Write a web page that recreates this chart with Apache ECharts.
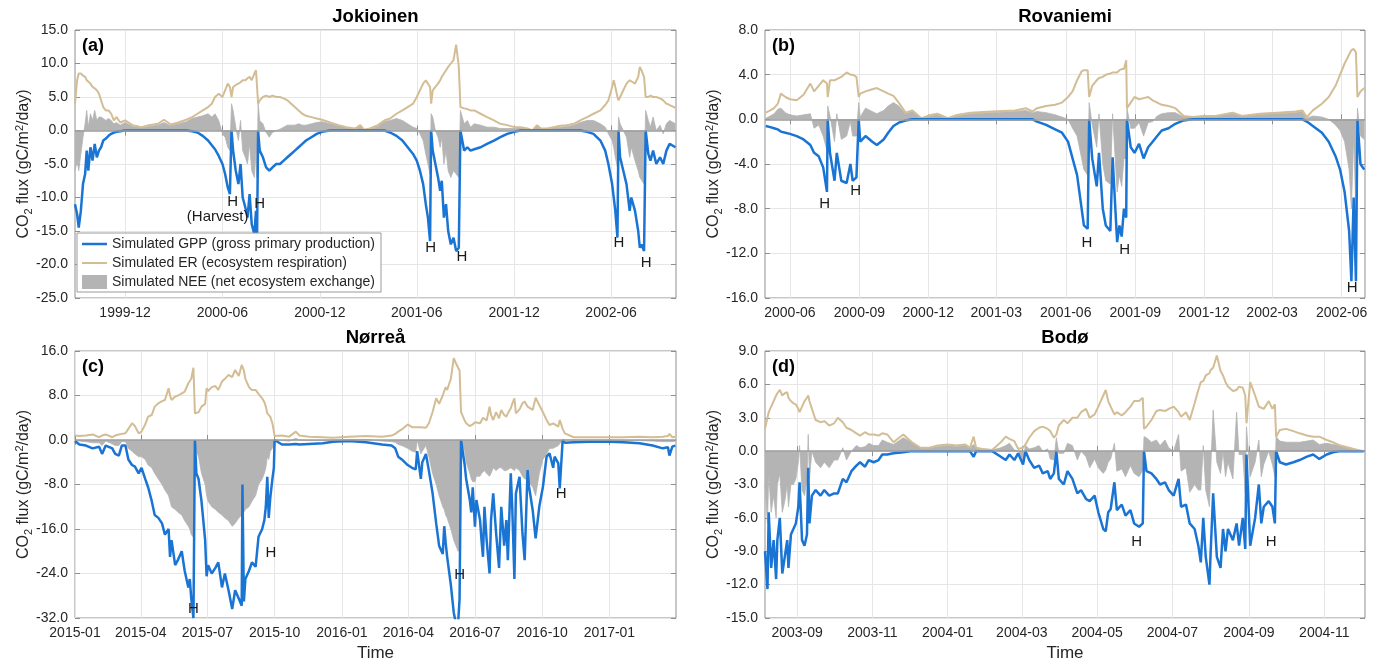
<!DOCTYPE html>
<html>
<head>
<meta charset="utf-8">
<script src="https://cdn.jsdelivr.net/npm/echarts@6/dist/echarts.min.js"></script>
<style>
  html, body { margin: 0; padding: 0; background: #fff; }
  #chart { width: 1381px; height: 660px; }
</style>
</head>
<body>
<div id="chart"></div>
<script>
// ---------- (a) Jokioinen ----------
const jokDates = [
  '1999-08-29','1999-09-02','1999-09-05','1999-09-09','1999-09-13','1999-09-17','1999-09-20','1999-09-23','1999-09-27','1999-10-01',
  '1999-10-05','1999-10-09','1999-10-13','1999-10-17','1999-10-21','1999-10-26','1999-10-31','1999-11-05','1999-11-10','1999-11-15',
  '1999-11-22','1999-12-01','1999-12-15','2000-01-01','2000-01-15','2000-02-01','2000-02-12','2000-02-25','2000-03-10','2000-03-25',
  '2000-04-05','2000-04-15','2000-04-25','2000-05-05','2000-05-12','2000-05-18','2000-05-25','2000-06-01','2000-06-06','2000-06-11',
  '2000-06-15','2000-06-18','2000-06-21','2000-06-26','2000-07-01','2000-07-05','2000-07-09','2000-07-14','2000-07-18','2000-07-22',
  '2000-07-26','2000-07-31','2000-08-03','2000-08-05','2000-08-07','2000-08-10','2000-08-16','2000-08-22','2000-08-28','2000-09-03',
  '2000-09-10','2000-09-17','2000-09-24','2000-10-01','2000-10-08','2000-10-15','2000-10-22','2000-10-29','2000-11-05','2000-11-15',
  '2000-11-25','2000-12-05','2000-12-20','2001-01-05','2001-01-20','2001-02-05','2001-02-15','2001-02-22','2001-03-05','2001-03-20',
  '2001-04-01','2001-04-12','2001-04-24','2001-05-05','2001-05-15','2001-05-25','2001-06-01','2001-06-07','2001-06-13','2001-06-18',
  '2001-06-22','2001-06-26','2001-06-28','2001-07-01','2001-07-06','2001-07-11','2001-07-15','2001-07-18','2001-07-22','2001-07-26',
  '2001-07-30','2001-08-04','2001-08-09','2001-08-14','2001-08-19','2001-08-22','2001-08-29','2001-09-04','2001-09-10','2001-09-17',
  '2001-09-29','2001-10-11','2001-10-24','2001-11-05','2001-11-18','2001-12-01','2001-12-13','2001-12-26','2002-01-04','2002-01-13',
  '2002-01-20','2002-02-01','2002-02-13','2002-02-26','2002-03-10','2002-03-23','2002-04-04','2002-04-17','2002-04-29','2002-05-12',
  '2002-05-21','2002-05-27','2002-06-03','2002-06-06','2002-06-09','2002-06-13','2002-06-15','2002-06-18','2002-06-24','2002-06-30',
  '2002-07-06','2002-07-09','2002-07-16','2002-07-22','2002-07-25','2002-07-28','2002-08-02','2002-08-05','2002-08-10','2002-08-14',
  '2002-08-19','2002-08-25','2002-09-01','2002-09-07','2002-09-13','2002-09-19','2002-09-30'
];
const jokGPP = [
  -11,-12.5,-14.5,-12,-8,-6.5,-3,-6,-2.5,-4.5,
  -2,-4,-3,-2.5,-1.5,-1.2,-0.8,-0.5,-0.3,-0.2,
  -0.1,0,0,0,0,0,0,0,0,0,
  -0.1,-0.3,-0.8,-1.5,-2.2,-2.8,-3.8,-5,-6.5,-8.5,
  -9.5,0,-3,-6,-8,-5,-10,-11.5,-13,-9.5,
  -14,-15.5,-12,-16,0,-3,-4,-5.5,-6,-5.5,
  -5,-5,-4.5,-4,-3.5,-3,-2.5,-2,-1.5,-1,
  -0.5,-0.2,0,0,0,0,0,0,0,0,
  0,-0.3,-0.8,-1.5,-2.5,-3.5,-4.5,-6,-8,-11,
  -13,-16.5,0,-3,-5,-7,-9,-7.5,-13,-11,
  -15,-17,-16,-18,-17.5,0,-3,-2.5,-3,-2.8,
  -2.5,-2,-1.5,-1,-0.5,-0.2,0,0,0,0,
  0,0,0,0,0,0,0,-0.2,-0.5,-1.5,
  -3,-5,-8,-10,-12,-16,0,-4,-6,-8,
  -12,-10,-12,-15,-17.5,-17,-18,0,-3.5,-4.5,
  -3,-5,-4,-5,-3,-2,-2.5
];
const jokER = [
  4,7.5,8.5,8.5,8.2,8,7.5,7.3,7,6.5,
  6.3,6,5.5,4.5,3.5,3,3,2.5,1.5,2,
  1.2,1.5,0.8,0.5,0.8,1,1.6,0.9,1.2,1.6,
  2,2.5,3,3.5,4,5,5.5,5,6,7,
  6.5,5,6.5,6.8,7,7.2,7.5,7.5,7.8,8,
  7.5,8.5,9,8.8,4,4.5,5,5.2,5,5.2,
  5,5,4.8,4.5,4,3.5,3,2.5,2.2,2,
  1.8,1.6,1.2,0.8,0.5,0.3,0.8,0.1,0.3,0.8,
  1.5,1.8,2.5,3,3.5,4,5,6,7,7.5,
  7,6.5,4,6,6.5,7,7.5,8,8.5,9,
  9.5,10,10.5,12.8,9.5,3.5,3.3,3.2,3,3,
  2.5,2,1.5,1,0.8,0.5,0.5,0.3,0,0.8,
  0.3,0.3,0.5,0.7,0.8,1,1.5,2,2.5,3,
  3.8,4.5,6.5,7.5,6.5,5,4.5,5,6,7,
  7.5,7.5,7,8,9.5,9,8,5,5,5.2,
  5,5,4.8,4.5,4,3.8,3.4
];
const jokNEE = [
  -6,-4.5,-6,-3.5,-1,1,3,0.5,2.5,1.5,
  3,1.5,2,2,1.8,1.5,1.8,1.5,1,1.2,
  0.8,1.2,0.6,0.4,0.6,0.8,1.2,0.7,1,1.3,
  1.8,2,2.2,2.5,2,2.5,1.5,-0.5,-1,-2.5,
  -3,4,3,0.5,-1.5,1.5,-3,-4,-5,-2,
  -6,-7,-3,-7,4,1.5,1,-0.3,-1,-0.3,
  0,0.2,0.5,0.8,0.8,0.8,1,0.8,0.8,1,
  1.2,1.3,1,0.7,0.4,0.2,0.6,0.1,0.2,0.6,
  1.3,1.5,1.8,1.5,1,0.5,0.3,-0.5,-1.5,-3.5,
  -5,-6.5,2.5,2,0,-1,-2.5,-1,-5,-3,
  -6,-7,-6,-6.5,-7,3,1,1.5,0.5,1,
  0.8,0.5,0.5,0.3,0.3,0.3,0.4,0.2,0,0.6,
  0.2,0.2,0.4,0.5,0.6,0.8,1.2,1.5,1.5,1,
  0.5,-0.5,-1.5,-2.5,-4,-5.5,2,1,0,-1,
  -4,-2.5,-4.5,-6,-7,-7,-8,3,1.5,0.5,
  2,0,0.8,-0.5,1,1.5,1
];
const jokTicks = ['1999-12-01','2000-06-01','2000-12-01','2001-06-01','2001-12-01','2002-06-01'];
const jokRange = ['1999-08-29','2002-10-01'];
const jokMarkDates = ['2000-06-20','2000-05-23','2000-08-10','2001-06-27','2001-08-25','2002-06-16','2002-08-06'];
const jokMarkValues = [-10.6,-12.9,-11,-17.5,-18.8,-16.8,-19.8];
const jokMarkText = ['H','(Harvest)','H','H','H','H','H'];

// ---------- (b) Rovaniemi ----------
const rovDates = [
  '2000-04-30','2000-05-06','2000-05-11','2000-05-16','2000-05-20','2000-05-26','2000-06-01','2000-06-10','2000-06-19','2000-06-28',
  '2000-07-03','2000-07-09','2000-07-15','2000-07-20','2000-07-21','2000-07-24','2000-07-30','2000-08-02','2000-08-08','2000-08-15',
  '2000-08-20','2000-08-23','2000-08-28','2000-08-31','2000-09-02','2000-09-09','2000-09-18','2000-09-24','2000-10-03','2000-10-09',
  '2000-10-16','2000-10-23','2000-11-01','2000-11-10','2000-11-22','2000-12-04','2000-12-13','2000-12-27','2001-01-08','2001-01-26',
  '2001-02-24','2001-03-26','2001-04-09','2001-04-18','2001-04-24','2001-05-06','2001-05-18','2001-05-27','2001-06-04','2001-06-10',
  '2001-06-16','2001-06-22','2001-06-25','2001-06-30','2001-07-02','2001-07-06','2001-07-12','2001-07-15','2001-07-20','2001-07-24',
  '2001-07-30','2001-08-02','2001-08-08','2001-08-11','2001-08-14','2001-08-17','2001-08-20','2001-08-21','2001-08-26','2001-08-31',
  '2001-09-06','2001-09-12','2001-09-18','2001-09-24','2001-09-30','2001-10-06','2001-10-15','2001-10-24','2001-11-04','2001-11-16',
  '2001-12-01','2001-12-16','2002-01-08','2002-01-20','2002-02-13','2002-03-08','2002-04-01','2002-04-10','2002-04-16','2002-04-24',
  '2002-05-06','2002-05-15','2002-05-24','2002-05-30','2002-06-05','2002-06-11','2002-06-14','2002-06-17','2002-06-20','2002-06-22',
  '2002-06-26','2002-07-01'
];
const rovGPP = [
  -0.6,-0.7,-0.8,-0.9,-1.1,-1.2,-1.3,-1.5,-1.8,-2.3,
  -3,-3.3,-4.3,-6.5,0,-3,-5.5,-3,-5.5,-5.7,
  -4,-5.5,-5.2,0,-2,-1.5,-2,-2.3,-1.8,-1.2,
  -0.6,-0.3,-0.1,0,0,0,0,0,0,0,
  0,0,0,0,-0.2,-0.5,-0.9,-1.2,-2,-3.5,
  -5,-8,-9.5,-9.8,0,-3.5,-6,-3,-8,-9.5,
  -10,-3.4,-11,-9.5,-10.5,-8,-8.8,0,-2.5,-3,
  -2.2,-3.5,-2.5,-2,-1.5,-1,-0.8,-0.4,-0.1,0,
  0,0,0,0,0,0,0,0,-0.2,-0.6,
  -1.2,-2,-3.3,-4.5,-6.5,-10,-14.5,-7,-14.5,0,
  -4,-4.5
];
const rovER = [
  0.6,0.8,1,1.4,2.3,2,1.8,1.7,2.2,3.2,
  2.5,3,3.5,3.2,2,3.5,3.5,3.6,3.8,4.2,
  4,4,3.8,2,2.3,2.5,2.7,2.8,2.5,2.3,
  2.1,1.5,0.6,0.8,0.1,0.4,0.5,0.1,0.4,0.6,
  0.7,0.8,1,0.7,1,1.2,1.3,1.5,2,2.5,
  3.5,4.3,4.4,4.4,2,3,3.5,3.7,3.8,4,
  4.1,4.2,4.2,4.4,4.5,4.5,5.3,1,1.5,2,
  1.8,1.9,2,1.7,1.5,1.3,1.2,1,0.3,0.2,
  0.3,0.3,0.6,0.3,0.5,0.6,0.7,0.8,0.2,0.8,
  1.4,2,3,4,5,5.8,6.2,6.3,6,2,
  2.5,2.8
];
const rovNEE = [
  0.1,0.3,0.5,0.9,1,0.6,0.4,0.3,0.4,0.5,
  -0.8,-0.5,-1.5,-2.8,1.2,0.3,-2,0.5,-1.8,-1.5,
  -0.2,-1.5,-1.5,1.5,0.2,1,0.7,0.5,0.8,1.2,
  1.5,1.2,0.5,0.7,0.1,0.3,0.4,0.1,0.3,0.5,
  0.6,0.7,0.8,0.6,0.7,0.6,0.4,0.2,0,-0.8,
  -1.5,-3.5,-4.5,-5,1.5,-0.5,-2.5,0.5,-4,-5.5,
  -5.8,0.5,-6.5,-5,-6,-3.5,-3.5,1,-0.8,-0.8,
  -0.3,-1.5,-0.3,-0.2,0.3,0.5,0.6,0.6,0.2,0.2,
  0.3,0.3,0.5,0.3,0.4,0.5,0.6,0.7,0.1,0.3,
  0.2,0,-0.5,-1,-2,-4.5,-8,-1.5,-8.5,1,
  -1.5,-1.8
];
const rovTicks = ['2000-06-01','2000-09-01','2000-12-01','2001-03-01','2001-06-01','2001-09-01','2001-12-01','2002-03-01','2002-06-01'];
const rovRange = ['2000-04-29','2002-07-02'];
const rovMarkDates = ['2000-07-17','2000-08-27','2001-06-29','2001-08-18','2002-06-15'];
const rovMarkValues = [-7.6,-6.4,-11.1,-11.7,-15.1];
const rovMarkText = ['H','H','H','H','H'];

// ---------- (c) Nørreå ----------
const norDates = [
  '2015-01-01','2015-01-07','2015-01-16','2015-01-25','2015-02-03','2015-02-07','2015-02-12','2015-02-21','2015-02-25','2015-03-02',
  '2015-03-06','2015-03-11','2015-03-15','2015-03-20','2015-03-24','2015-03-29','2015-04-02','2015-04-07','2015-04-11','2015-04-16',
  '2015-04-20','2015-04-25','2015-04-30','2015-05-04','2015-05-09','2015-05-11','2015-05-13','2015-05-18','2015-05-22','2015-05-27',
  '2015-05-31','2015-06-05','2015-06-07','2015-06-09','2015-06-12','2015-06-14','2015-06-16','2015-06-19','2015-06-23','2015-06-28',
  '2015-06-30','2015-07-02','2015-07-07','2015-07-12','2015-07-16','2015-07-21','2015-07-25','2015-07-30','2015-08-04','2015-08-08',
  '2015-08-13','2015-08-17','2015-08-18','2015-08-20','2015-08-22','2015-08-27','2015-08-31','2015-09-05','2015-09-09','2015-09-14',
  '2015-09-17','2015-09-19','2015-09-21','2015-09-23','2015-09-25','2015-09-28','2015-09-30','2015-10-01','2015-10-11','2015-10-21',
  '2015-10-30','2015-11-04','2015-11-17','2015-12-06','2015-12-20','2016-01-11','2016-02-03','2016-02-25','2016-03-09','2016-03-14',
  '2016-03-18','2016-03-23','2016-03-31','2016-04-06','2016-04-11','2016-04-13','2016-04-18','2016-04-20','2016-04-25','2016-04-29',
  '2016-05-04','2016-05-09','2016-05-13','2016-05-18','2016-05-20','2016-05-22','2016-05-24','2016-05-29','2016-06-02','2016-06-05',
  '2016-06-08','2016-06-10','2016-06-12','2016-06-17','2016-06-19','2016-06-24','2016-06-26','2016-06-28','2016-07-01','2016-07-03',
  '2016-07-08','2016-07-10','2016-07-12','2016-07-14','2016-07-17','2016-07-21','2016-07-23','2016-07-26','2016-07-30','2016-08-03',
  '2016-08-06','2016-08-10','2016-08-13','2016-08-15','2016-08-19','2016-08-21','2016-08-24','2016-08-26','2016-08-31','2016-09-04',
  '2016-09-07','2016-09-11','2016-09-13','2016-09-18','2016-09-22','2016-09-27','2016-10-02','2016-10-07','2016-10-11','2016-10-16',
  '2016-10-18','2016-10-23','2016-10-25','2016-10-29','2016-11-01','2016-11-13','2016-12-05','2017-01-01','2017-01-20','2017-02-11',
  '2017-03-01','2017-03-15','2017-03-22','2017-03-24','2017-03-28','2017-04-01'
];
const norGPP = [
  -0.2,-0.8,-1,-1.5,-1.2,-2.5,-1,-1.5,-2.5,-2.8,
  -1,-1,-3.5,-4.5,-4.8,-6,-5,-7,-8.5,-11,
  -13.5,-14,-15,-17,-16,-21,-18,-22.5,-21.5,-20,
  -23.5,-26.5,-25,-28.5,-32,0,-6,-7,-11,-18,
  -24.5,-22.5,-24,-23,-22,-26.5,-24,-27,-30.4,-27,
  -28.5,-29.8,-8,-29,-25,-23.5,-22,-22.8,-17.4,-16,
  -14.4,-12,-6.6,-14,-10.5,-7,-5,0,-0.8,-0.8,
  -0.7,-0.8,-0.7,-0.6,-0.3,-0.2,-0.4,-0.8,-1,-1.5,
  -3,-3.5,-4.5,-5,-5.3,-2,-7,-4,-2.5,-5.5,
  -9.5,-15,-19,-20.5,-15.5,-18.5,-21,-26,-31,-33,
  -33,-28.5,0,-4.5,-7,-10.8,-13,-8.5,-15.6,-10.8,
  -14.4,-18,-21,-12,-18,-24,-14.4,-9.6,-16.8,-23,
  -12,-19,-14.4,-21.6,-6,-12,-25,-9.6,-6.6,-16.8,
  -21.6,-5.4,-8.4,-12.6,-17.7,-12,-8.4,-3,-2.4,-5,
  -3,-4.2,-8.7,0,-0.5,-0.4,-0.3,-0.3,-0.4,-0.6,
  -1,-1.5,-1.3,-2.8,-1.2,-1
];
const norER = [
  0.8,0.7,0.8,1,0.5,0.8,1,0.5,0.8,1,
  1.1,1.2,2,3,2.5,1.2,1.5,2.8,4.2,4.5,
  6,6.6,7,7.2,9.3,8,7.2,7.8,8,8.4,
  8.7,10.2,10.5,11,13,4.8,4.5,5,6,6.5,
  9.3,8.8,9.5,9.7,9,10.5,11,11.7,11.3,12.6,
  11.5,13.5,13.2,12.5,11,9.5,9,9,8.3,7.5,
  6.8,6,4.8,4.5,4.2,3,1.5,0.7,0.8,0.6,
  1.5,0.8,0.6,0.5,0.4,0.6,0.7,0.6,0.8,1.1,
  1.5,1.9,2.8,2.3,2.3,2.5,2.3,2.1,2.2,3,
  5,7.5,6.5,8,8.8,9.5,9,11,14.7,13.8,
  13,12.5,5,3.5,3,2.5,2.6,2.8,3.2,3.5,
  3,3.5,4,3.8,3.5,6,4.5,3.6,5,3.9,
  5.4,4.5,4.2,4.8,5.7,6.5,7.5,4.8,5.5,6.6,
  6.9,6,5.8,5.4,7.6,6.3,5,3.6,2.7,3,
  2.8,2.4,3.6,2,1.2,0.5,0.5,0.5,0.5,0.6,
  0.5,0.6,0.7,1.1,0.5,0.6
];
const norNEE = [
  -0.1,-0.2,-0.3,-0.5,-0.5,-1,-0.2,-0.7,-1,-1,
  -0.3,-0.3,-1.5,-2,-2.5,-3,-3,-3.5,-4.5,-5,
  -6,-7,-8,-9,-10,-11,-12,-12.5,-13,-13.5,
  -14.5,-15.5,-16,-17,-17.5,0,-2,-3,-6,-8,
  -10,-11,-12,-12.5,-13,-13.5,-14,-14.5,-15.5,-15,
  -14,-13.5,-12.5,-13,-12.5,-12,-11,-10,-8,-7,
  -6,-5,-3,-3.5,-2,-1.5,-1,0,-0.1,-0.2,
  0.3,0,-0.1,-0.1,0,0.1,0.1,-0.2,-0.3,-0.4,
  -0.8,-1,-1.5,-2,-2.2,0,-2.5,-2,-1,-3,
  -6,-8,-10,-12,-12.5,-13.5,-14,-16,-18,-19,
  -20,-19,0,-2,-4,-6,-7,-7.5,-7.5,-6.5,
  -6.5,-6,-6,-5.5,-6,-6.5,-6,-5,-5.5,-5,
  -5,-5.5,-5.5,-5.5,-5,-5,-5.5,-5,-5.5,-6.5,
  -7,-7,-7.5,-8.5,-10,-6,-3.5,-2.5,-1.5,-1.5,
  -1.2,-1,-1,0,0,0,0,0,-0.1,-0.1,
  -0.2,-0.3,-0.3,-0.5,-0.3,-0.2
];
const norTicks = ['2015-01-01','2015-04-01','2015-07-01','2015-10-01','2016-01-01','2016-04-01','2016-07-01','2016-10-01','2017-01-01'];
const norRange = ['2015-01-01','2017-04-02'];
const norMarkDates = ['2015-06-12','2015-09-26','2016-06-10','2016-10-27'];
const norMarkValues = [-30.4,-20.3,-24.2,-9.6];
const norMarkText = ['H','H','H','H'];

// ---------- (d) Bodø ----------
const bodDates = [
  '2003-08-06','2003-08-08','2003-08-09','2003-08-11','2003-08-13','2003-08-15','2003-08-16','2003-08-18','2003-08-20','2003-08-22',
  '2003-08-24','2003-08-25','2003-08-27','2003-08-29','2003-08-31','2003-09-02','2003-09-03','2003-09-05','2003-09-07','2003-09-09',
  '2003-09-10','2003-09-11','2003-09-13','2003-09-16','2003-09-20','2003-09-23','2003-09-27','2003-10-01','2003-10-04','2003-10-08',
  '2003-10-11','2003-10-15','2003-10-19','2003-10-22','2003-10-26','2003-10-29','2003-11-02','2003-11-06','2003-11-09','2003-11-13',
  '2003-11-18','2003-11-26','2003-12-03','2003-12-10','2003-12-17','2003-12-24','2004-01-01','2004-01-08','2004-01-15','2004-01-19',
  '2004-01-22','2004-01-24','2004-01-29','2004-02-06','2004-02-13','2004-02-17','2004-02-20','2004-02-24','2004-02-27','2004-03-02',
  '2004-03-04','2004-03-07','2004-03-11','2004-03-15','2004-03-18','2004-03-22','2004-03-24','2004-03-27','2004-03-29','2004-03-31',
  '2004-04-04','2004-04-07','2004-04-11','2004-04-15','2004-04-18','2004-04-22','2004-04-25','2004-04-29','2004-05-02','2004-05-06',
  '2004-05-08','2004-05-10','2004-05-12','2004-05-15','2004-05-17','2004-05-21','2004-05-24','2004-05-28','2004-05-31','2004-06-04',
  '2004-06-07','2004-06-08','2004-06-10','2004-06-14','2004-06-18','2004-06-21','2004-06-25','2004-06-28','2004-07-02','2004-07-06',
  '2004-07-08','2004-07-12','2004-07-15','2004-07-19','2004-07-22','2004-07-24','2004-07-26','2004-07-28','2004-07-31','2004-08-01',
  '2004-08-03','2004-08-06','2004-08-09','2004-08-11','2004-08-13','2004-08-15','2004-08-19','2004-08-22','2004-08-24','2004-08-27',
  '2004-08-29','2004-08-30','2004-09-02','2004-09-06','2004-09-09','2004-09-11','2004-09-13','2004-09-17','2004-09-20','2004-09-22',
  '2004-09-23','2004-09-26','2004-10-01','2004-10-07','2004-10-12','2004-10-18','2004-10-23','2004-10-28','2004-11-03','2004-11-08',
  '2004-11-14','2004-11-21','2004-11-28','2004-12-03'
];
const bodGPP = [
  -9,-12.4,-5.5,-10.5,-8,-11.5,-8,-6,-11,-9.5,
  -8,-10.5,-7.5,-7,-6.5,-5,-2.8,-8,-8.5,-7.5,
  -1.5,-6.5,-4,-3.5,-4,-3.5,-4,-3.8,-3.8,-2.5,
  -2.8,-1.8,-1.3,-1,-1.4,-0.8,-1,-0.8,-0.3,-0.3,
  -0.2,-0.1,0,0,0,0,0,0,0,0,
  -0.5,0,0,0,-0.5,-0.8,-0.3,-0.8,-0.2,-1.2,
  0,-0.8,-1.5,-1.3,-2,-1.8,-2.5,-2,0,-2.5,
  -3,-1.8,-2.5,-3.8,-3.5,-4.3,-4.5,-4,-5.5,-7,
  -7.2,-5.5,-5.2,-2.8,-5.3,-4.8,-5.8,-5.3,-6.5,-6.8,
  -6.5,0,-1.8,-2,-2.5,-3,-2.8,-3.5,-4,-2.5,
  -5,-4.8,-6.5,-7,-8.5,-10,-6,-9.5,-12,-9,
  -3.8,-9.5,-10.5,-7,-9,-7,-8,-6.5,-8.5,-6,
  -8.8,-0.3,-8.5,-6,-3,-6.5,-5,-4.5,-5,-6.5,
  0,-1,-1.2,-1,-0.8,-0.5,-0.3,-0.7,-0.3,-0.1,
  0,0,0,0
];
const bodER = [
  2,3,3.5,4,4.5,5,5.2,5.5,5,5.2,
  5.3,4.8,4.5,4.3,4.2,3.8,3.5,4,4.5,4.8,
  5,4.5,3.8,2.8,2.6,2.7,2.3,2.5,3,2.6,
  2.1,1.9,1.6,1.4,1.7,1.5,1.5,1.4,1.6,1.5,
  0.8,1.5,0.8,0.3,0.3,0.5,0.6,0.5,0.6,0.3,
  1.3,0.3,0.2,0.1,0.8,1.3,1.1,0.9,0.2,0.3,
  0.6,1.2,1.8,2.1,2.2,2,1.8,1.2,1.5,2.3,
  2.8,2.5,3,3,3.5,3.8,3,3.3,4,5,
  5.5,4.5,4,3.3,3.5,3.2,3.5,4,4.5,4.5,
  4.8,2,2.2,2.8,3.6,3.7,3.6,3.8,4,3.5,
  3.1,3.5,2.8,4.3,5.5,6.2,6.3,6.8,7,7.3,
  7.5,8.6,7.2,6.8,6.2,5.8,5.4,5.5,5.8,5.7,
  5,2.5,6.2,5,4,3.9,3.8,4.5,3.8,4.2,
  1.3,1.9,2,1.8,1.6,1.4,1.3,1.3,1,0.8,
  0.5,0.3,0.1,0
];
const bodNEE = [
  -3,-6.5,-2,-5.5,-4,-6,-3,-2,-5.5,-4.5,
  -3,-5,-3,-3,-2.5,-1,0.5,-3.5,-4,-2.5,
  1.5,-2.5,0,-1,-1.5,-1,-1.5,-0.8,-0.8,0.3,
  -0.8,0,0.5,0.3,0.4,0.7,0.5,0.5,1,0.8,
  0.6,1.2,0.8,0.3,0.3,0.4,0.5,0.4,0.5,0.3,
  0.6,0.3,0.2,0.1,0.3,0.5,0.7,0.1,0,-0.8,
  0.5,0.2,0.3,0.5,0,0.2,-0.7,-0.8,1.2,-0.2,
  -0.2,0.7,0.5,-0.8,0,-0.5,-1.5,-0.7,-1.5,-2,
  -1.7,-1,-0.7,0.7,-1.8,-1.6,-2.3,-1.3,-2,-2.3,
  -1.7,1.3,1.2,0.8,1,0.5,1,0.3,0,1.5,
  -1.8,-1.5,-3.7,-3,-3.5,-3.5,0.5,-3.5,-5,-1.7,
  3.7,-1,-2,0,-2.3,-1,-2.5,3.5,-0.3,-0.3,
  -3.8,2.2,-2.3,-1,1,-2.3,-1.2,0,-1.2,-2.3,
  1.3,0.9,0.8,0.8,0.8,0.9,1,0.6,0.7,0.6,
  0.5,0.3,0.1,0
];
const bodTicks = ['2003-09-01','2003-11-01','2004-01-01','2004-03-01','2004-05-01','2004-07-01','2004-09-01','2004-11-01'];
const bodRange = ['2003-08-06','2004-12-04'];
const bodMarkDates = ['2004-06-02','2004-09-19'];
const bodMarkValues = [-8.2,-8.2];
const bodMarkText = ['H','H'];

// ---------- chart ----------
const GPP_NAME = 'Simulated GPP (gross primary production)';
const ER_NAME = 'Simulated ER (ecosystem respiration)';
const NEE_NAME = 'Simulated NEE (net ecosystem exchange)';
const FONT = '"Liberation Sans", Arial, Helvetica, sans-serif';
const BLUE = '#1a74d4';
const TAN = '#d3bd95';
const GRAY = '#b4b4b4';
const BOX = '#8f8f8f';
const TEXT = '#262626';

const ts = s => new Date(s + 'T00:00:00').getTime();
const pairs = (dates, vals) => dates.map((d, k) => [ts(d), vals[k]]);
const fmtMonth = v => {
  const d = new Date(v);
  return d.getFullYear() + '-' + String(d.getMonth() + 1).padStart(2, '0');
};
// legend line icons: a thin bar in the middle of a 25x14 box (tiny corner marks fix the box size)
const lineIcon = (y0, y1) => 'path://M0,0h0.01v0.01h-0.01Z M0,' + y0 + 'h25v' + (y1 - y0) + 'h-25Z M24.99,14h0.01v0.01h-0.01Z';

const panels = [
  { title: 'Jokioinen', tag: '(a)', box: [75, 30, 601, 268], range: jokRange, ticks: jokTicks, y: [-25, 15, 5],
    dates: jokDates, gpp: jokGPP, er: jokER, nee: jokNEE, marks: [jokMarkDates, jokMarkValues, jokMarkText], time: false },
  { title: 'Rovaniemi', tag: '(b)', box: [765, 30, 600, 268], range: rovRange, ticks: rovTicks, y: [-16, 8, 4],
    dates: rovDates, gpp: rovGPP, er: rovER, nee: rovNEE, marks: [rovMarkDates, rovMarkValues, rovMarkText], time: false },
  { title: 'Nørreå', tag: '(c)', box: [75, 351, 601, 267], range: norRange, ticks: norTicks, y: [-32, 16, 8],
    dates: norDates, gpp: norGPP, er: norER, nee: norNEE, marks: [norMarkDates, norMarkValues, norMarkText], time: true },
  { title: 'Bodø', tag: '(d)', box: [765, 351, 600, 267], range: bodRange, ticks: bodTicks, y: [-15, 9, 3],
    dates: bodDates, gpp: bodGPP, er: bodER, nee: bodNEE, marks: [bodMarkDates, bodMarkValues, bodMarkText], time: true }
];

const yName = '{t|CO}{s|2}{t| flux (gC/m}{p|2}{t|/day)}';
const option = {
  animation: false,
  textStyle: { fontFamily: FONT },
  grid: [], xAxis: [], yAxis: [], series: [], graphic: [],
  legend: {
    left: 77, top: 233, orient: 'vertical',
    itemWidth: 25, itemHeight: 14, itemGap: 5,
    padding: [4, 6, 3, 5],
    backgroundColor: '#fff', borderColor: '#9a9a9a', borderWidth: 1,
    selectedMode: false,
    textStyle: { fontSize: 14, color: TEXT, fontFamily: FONT },
    data: [
      { name: GPP_NAME, icon: lineIcon(5.8, 8.2) },
      { name: ER_NAME, icon: lineIcon(6, 8) },
      { name: NEE_NAME, icon: 'rect' }
    ]
  }
};

panels.forEach((p, i) => {
  const [left, top, width, height] = p.box;
  // fixed plot boxes: do not let the grid shrink to keep axis names inside the canvas
  option.grid.push({ left, top, width, height, show: true, borderColor: BOX, borderWidth: 1, outerBoundsMode: 'none', containLabel: false });

  // dates are numeric timestamps on a value axis so that month ticks can be placed exactly
  const tickVals = p.ticks.map(ts);
  const tick = { show: true, inside: true, length: 5, customValues: tickVals, lineStyle: { color: BOX } };
  const xCommon = { type: 'value', gridIndex: i, min: ts(p.range[0]), max: ts(p.range[1]), axisLine: { show: false } };
  option.xAxis.push(Object.assign({}, xCommon, {
    position: 'bottom', axisTick: tick,
    axisLabel: { customValues: tickVals, formatter: fmtMonth, fontSize: 14, color: TEXT, margin: 8, hideOverlap: false },
    splitLine: { show: true, lineStyle: { color: '#e6e6e6', width: 1 } },
    name: p.time ? 'Time' : '', nameLocation: 'middle', nameGap: 27, nameMoveOverlap: false,
    nameTextStyle: { fontSize: 17, color: TEXT }
  }));
  option.xAxis.push(Object.assign({}, xCommon, {
    position: 'top', axisTick: tick, axisLabel: { show: false }, splitLine: { show: false }
  }));

  const yCommon = { type: 'value', gridIndex: i, min: p.y[0], max: p.y[1], interval: p.y[2], axisLine: { show: false },
    axisTick: { show: true, inside: true, length: 5, lineStyle: { color: BOX } } };
  option.yAxis.push(Object.assign({}, yCommon, {
    position: 'left',
    axisLabel: { formatter: v => v.toFixed(1), fontSize: 14, color: TEXT, margin: 7 },
    splitLine: { show: true, lineStyle: { color: '#e6e6e6', width: 1 } },
    name: yName, nameLocation: 'middle', nameRotate: 90, nameGap: 41, nameMoveOverlap: false,
    nameTextStyle: {
      color: TEXT, fontSize: 16,
      rich: {
        t: { fontSize: 16, color: TEXT },
        s: { fontSize: 11, color: TEXT, padding: [9, 0, 0, 0] },
        p: { fontSize: 11, color: TEXT, padding: [0, 0, 9, 0] }
      }
    }
  }));
  option.yAxis.push(Object.assign({}, yCommon, {
    position: 'right', axisLabel: { show: false }, splitLine: { show: false }
  }));

  const xi = 2 * i, yi = 2 * i;
  option.series.push({
    name: NEE_NAME, type: 'line', xAxisIndex: xi, yAxisIndex: yi,
    data: pairs(p.dates, p.nee), symbol: 'none', silent: true, z: 1,
    itemStyle: { color: GRAY },
    lineStyle: { color: GRAY, width: 0.8 },
    areaStyle: { color: GRAY, opacity: 1 },
    markLine: {
      silent: true, symbol: ['none', 'none'], label: { show: false },
      lineStyle: { color: '#9c9c9c', width: 1.5, type: 'solid' },
      data: [{ yAxis: 0 }]
    }
  });
  option.series.push({
    name: ER_NAME, type: 'line', xAxisIndex: xi, yAxisIndex: yi,
    data: pairs(p.dates, p.er), symbol: 'none', silent: true, z: 2,
    itemStyle: { color: TAN },
    lineStyle: { color: TAN, width: 2 }
  });
  const [md, mv, mt] = p.marks;
  option.series.push({
    name: GPP_NAME, type: 'line', xAxisIndex: xi, yAxisIndex: yi,
    data: pairs(p.dates, p.gpp), symbol: 'none', silent: true, z: 3,
    itemStyle: { color: BLUE },
    lineStyle: { color: BLUE, width: 2.5 },
    markPoint: {
      silent: true, symbol: 'rect', symbolSize: 1,
      itemStyle: { color: 'rgba(0,0,0,0)' },
      label: { show: true, position: 'inside', formatter: '{b}', fontSize: 15, color: '#1a1a1a', fontFamily: FONT },
      data: md.map((d, k) => ({ name: mt[k], coord: [ts(d), mv[k]] }))
    }
  });

  option.graphic.push({
    type: 'text', x: left + width / 2, y: top - 13, silent: true,
    style: { text: p.title, fontSize: 18.5, fontWeight: 'bold', fontFamily: FONT, fill: '#000', align: 'center', verticalAlign: 'middle' }
  });
  option.graphic.push({
    type: 'text', x: left + 6, y: top + 16, silent: true, z: 10,
    style: { text: p.tag, fontSize: 18, fontWeight: 'bold', fontFamily: FONT, fill: '#000', align: 'left', verticalAlign: 'middle',
      backgroundColor: '#fff', padding: [1, 1, 1, 1] }
  });
});

const chart = echarts.init(document.getElementById('chart'));
chart.setOption(option);
window.addEventListener('resize', () => chart.resize());
</script>
</body>
</html>
